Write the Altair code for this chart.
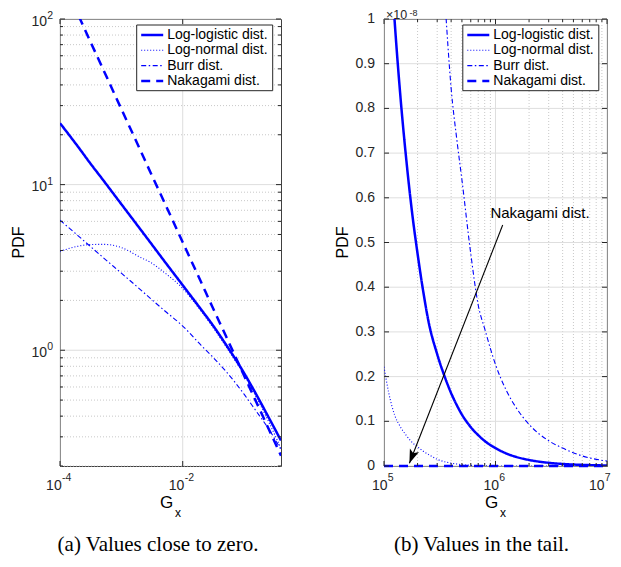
import altair as alt
import pandas as pd

# ---------------- data ----------------
NAMES = ["Log-logistic dist.", "Log-normal dist.", "Burr dist.", "Nakagami dist."]

# (a) values close to zero (log-log)
LEFT_GX = [1e-4, 2e-4, 3e-4, 5e-4, 1e-3, 2e-3, 3e-3, 5e-3, 1e-2, 2e-2, 3e-2, 5e-2, 0.1, 0.15, 0.25, 0.4]
LEFT_LOGLOGISTIC = [23.5, 16.8, 13.7, 10.7, 7.62, 5.43, 4.45, 3.46, 2.47, 1.76, 1.44, 1.09, 0.728, 0.560, 0.395, 0.285]
LEFT_LOGNORMAL = [3.96, 4.25, 4.34, 4.36, 4.17, 3.65, 3.39, 2.95, 2.36, 1.72, 1.40, 1.06, 0.708, 0.540, 0.372, 0.255]
LEFT_BURR = [6.10, 4.89, 4.29, 3.64, 2.92, 2.34, 2.05, 1.74, 1.40, 1.07, 0.92, 0.75, 0.543, 0.440, 0.336, 0.251]
LEFT_NAKAGAMI = [183, 105, 75.5, 50.1, 28.6, 16.4, 11.8, 7.85, 4.49, 2.57, 1.85, 1.23, 0.703, 0.508, 0.337, 0.231]

# (b) values in the tail (PDF in units of 1e-8)
RIGHT_GX = [1.0e5, 1.1e5, 1.25e5, 1.4e5, 1.6e5, 1.8e5, 2.0e5, 2.25e5, 2.5e5, 3.0e5, 3.5e5, 4.0e5,
            4.5e5, 5.0e5, 6.0e5, 7.0e5, 8.0e5, 1.0e6, 1.25e6, 1.5e6, 2.0e6, 3.0e6, 4.0e6, 6.0e6, 1.0e7]
RIGHT_LOGLOGISTIC = [1.40, 1.21, 0.99, 0.83, 0.675, 0.56, 0.475, 0.39, 0.325, 0.25, 0.20, 0.163,
                     0.136, 0.115, 0.087, 0.069, 0.056, 0.040, 0.028, 0.021, 0.0135, 0.0072, 0.0046, 0.0025, 0.0011]
RIGHT_LOGNORMAL = [0.222, 0.165, 0.113, 0.088, 0.067, 0.052, 0.043, 0.033, 0.026, 0.015, 0.0095, 0.0065,
                   0.0045, 0.0030, 0.0015, 0.0009, 0.0005, 0.0002, 0.0001, 0.0, 0.0, 0.0, 0.0, 0.0, 0.0]
RIGHT_BURR_GX = [3.0e5, 3.5e5, 4.0e5, 4.5e5, 5.0e5, 6.0e5, 7.0e5, 8.0e5, 1.0e6, 1.25e6, 1.5e6, 2.0e6,
                 3.0e6, 4.0e6, 6.0e6, 1.0e7]
RIGHT_BURR = [1.31, 1.05, 0.845, 0.73, 0.64, 0.475, 0.36, 0.307, 0.227, 0.169, 0.134, 0.093,
              0.0565, 0.040, 0.0225, 0.011]
RIGHT_NAKAGAMI_GX = [1.0e5, 1.0e6, 1.0e7]
RIGHT_NAKAGAMI = [0.0, 0.0, 0.0]

ANNOT_TEXT = "Nakagami dist."
ANNOT_X, ANNOT_Y = 9.0e5, 0.566
ARROW_X = [1.16e6, 1.69e5]
ARROW_Y = [0.539, 0.006]

LEFT_X_TICKS = [1e-4, 1e-2]
LEFT_X_EXP = ["-4", "-2"]
LEFT_Y_TICKS = [1, 10, 100]
LEFT_Y_EXP = ["0", "1", "2"]
LEFT_Y_MINOR = [0.2, 0.3, 0.4, 0.5, 0.6, 0.7, 0.8, 0.9, 2, 3, 4, 5, 6, 7, 8, 9,
                20, 30, 40, 50, 60, 70, 80, 90]
RIGHT_X_TICKS = [1e5, 1e6, 1e7]
RIGHT_X_EXP = ["5", "6", "7"]
RIGHT_X_MINOR = [2e5, 3e5, 4e5, 5e5, 6e5, 7e5, 8e5, 9e5, 2e6, 3e6, 4e6, 5e6, 6e6, 7e6, 8e6, 9e6]
RIGHT_Y_TICKS = [0, 0.1, 0.2, 0.3, 0.4, 0.5, 0.6, 0.7, 0.8, 0.9, 1.0]
RIGHT_Y_LABELS = ["0", "0.1", "0.2", "0.3", "0.4", "0.5", "0.6", "0.7", "0.8", "0.9", "1"]

# ---------------- styling ----------------
FONT = "Liberation Sans"
SERIF = "Liberation Serif"
INK = "#262626"
BLUE = "#0000ff"
GRID = "#dedede"
MINOR = "#c8c8c8"
W1, W2, H = 221, 223, 447
DASHES = [[1, 0], [1, 2], [5, 2.5, 1.5, 2.5], [9, 6]]
WIDTHS = [2.5, 1.1, 1.1, 2.5]


def series_df(gx_list, vals_list, names):
    rows = []
    for gx, vals, name in zip(gx_list, vals_list, names):
        for g, v in zip(gx, vals):
            rows.append({"g": g, "v": v, "dist": name})
    return pd.DataFrame(rows)


def style_enc():
    return dict(
        color=alt.Color("dist:N", scale=alt.Scale(domain=NAMES, range=[BLUE] * 4), legend=None),
        strokeDash=alt.StrokeDash("dist:N", scale=alt.Scale(type="ordinal", domain=NAMES, range=DASHES), legend=None),
        strokeWidth=alt.StrokeWidth("dist:N", scale=alt.Scale(type="ordinal", domain=NAMES, range=WIDTHS), legend=None),
    )


def text_at(s, x, y, size, font=FONT, align="center", angle=0, color="black"):
    kw = dict(font=font, fontSize=size, color=color, align=align, baseline="middle")
    if angle:
        kw["angle"] = angle
    return alt.Chart(pd.DataFrame({"s": [s]})).mark_text(**kw).encode(
        x=alt.value(x), y=alt.value(y), text="s:N")


def legend_layers(lx):
    """MATLAB-style boxed legend drawn in the panel's top-right corner."""
    top, bottom, width = 6, 71.7, 136
    layers = [alt.Chart(pd.DataFrame({"s": ["box"]})).mark_rect(
        fill="white", stroke=INK, strokeWidth=1).encode(
        x=alt.value(lx), x2=alt.value(lx + width), y=alt.value(top), y2=alt.value(bottom))]
    for i, (name, dash, wdt) in enumerate(zip(NAMES, DASHES, WIDTHS)):
        yy = top + 10 + 15.3 * i
        layers.append(alt.Chart(pd.DataFrame({"s": [name]})).mark_rule(
            color=BLUE, strokeDash=dash, strokeWidth=wdt).encode(
            x=alt.value(lx + 4.5), x2=alt.value(lx + 26.5), y=alt.value(yy)))
        layers.append(text_at(name, lx + 30.5, yy, 14, align="left"))
    return layers


def grid_x(vals, xscale, color, dash=None):
    kw = dict(color=color, strokeWidth=1)
    if dash:
        kw["strokeDash"] = dash
    return alt.Chart(pd.DataFrame({"t": vals})).mark_rule(**kw).encode(
        x=alt.X("t:Q", scale=xscale, axis=None))


def grid_y(vals, yscale, color, dash=None):
    kw = dict(color=color, strokeWidth=1)
    if dash:
        kw["strokeDash"] = dash
    return alt.Chart(pd.DataFrame({"t": vals})).mark_rule(**kw).encode(
        y=alt.Y("t:Q", scale=yscale, axis=None))


def exp_labels_x(ticks, exps, xscale, dx10):
    df = pd.DataFrame({"t": ticks, "base": ["10"] * len(ticks), "e": exps})
    base = alt.Chart(df).mark_text(align="right", baseline="middle", font=FONT, fontSize=14,
                                   color=INK, dx=dx10).encode(
        x=alt.X("t:Q", scale=xscale, axis=None), y=alt.value(H + 20), text="base:N")
    sup = alt.Chart(df).mark_text(align="left", baseline="middle", font=FONT, fontSize=10.5,
                                  color=INK, dx=dx10 + 0.3).encode(
        x=alt.X("t:Q", scale=xscale, axis=None), y=alt.value(H + 12), text="e:N")
    return [base, sup]


def edge_ticks_y(vals, yscale, w, length):
    df = pd.DataFrame({"t": vals})
    l = alt.Chart(df).mark_rule(color=INK, strokeWidth=1).encode(
        y=alt.Y("t:Q", scale=yscale, axis=None), x=alt.value(0), x2=alt.value(length))
    r = alt.Chart(df).mark_rule(color=INK, strokeWidth=1).encode(
        y=alt.Y("t:Q", scale=yscale, axis=None), x=alt.value(w - length), x2=alt.value(w))
    return [l, r]


def edge_ticks_x(vals, xscale, length):
    df = pd.DataFrame({"t": vals})
    b = alt.Chart(df).mark_rule(color=INK, strokeWidth=1).encode(
        x=alt.X("t:Q", scale=xscale, axis=None), y=alt.value(H - length), y2=alt.value(H))
    t = alt.Chart(df).mark_rule(color=INK, strokeWidth=1).encode(
        x=alt.X("t:Q", scale=xscale, axis=None), y=alt.value(0), y2=alt.value(length))
    return [b, t]


def frame_texts(w, caption, cap_x):
    return [
        text_at("PDF", -41, H / 2, 16, angle=270),
        text_at("G", w / 2 - 4, H + 37, 17),
        text_at("x", w / 2 + 7.5, H + 47, 12),
        text_at(caption, cap_x, 526, 21, font=SERIF),
    ]


# ---------------- left panel ----------------
LXS = alt.Scale(type="log", domain=[1e-4, 0.4], nice=False)
LYS = alt.Scale(type="log", domain=[0.2, 100], nice=False)

left_df = series_df([LEFT_GX] * 4,
                    [LEFT_LOGLOGISTIC, LEFT_LOGNORMAL, LEFT_BURR, LEFT_NAKAGAMI], NAMES)

left_lines = alt.Chart(left_df).mark_line(clip=True, interpolate="monotone").encode(
    x=alt.X("g:Q", scale=LXS, axis=None),
    y=alt.Y("v:Q", scale=LYS, axis=None),
    **style_enc(),
)

ylab_df = pd.DataFrame({"t": LEFT_Y_TICKS, "base": ["10"] * 3, "e": LEFT_Y_EXP})
left_ylab = alt.Chart(ylab_df).mark_text(align="right", baseline="middle", font=FONT,
                                         fontSize=14, color=INK, dy=2.5).encode(
    y=alt.Y("t:Q", scale=LYS, axis=None), x=alt.value(-13), text="base:N")
left_ysup = alt.Chart(ylab_df).mark_text(align="left", baseline="middle", font=FONT,
                                         fontSize=10.5, color=INK, dy=-3).encode(
    y=alt.Y("t:Q", scale=LYS, axis=None), x=alt.value(-12.7), text="e:N")

left_layers = [
    grid_y(LEFT_Y_MINOR, LYS, MINOR, [1, 2]),
    grid_y(LEFT_Y_TICKS, LYS, GRID),
    grid_x(LEFT_X_TICKS, LXS, GRID),
    left_lines,
]
left_layers += edge_ticks_y(LEFT_Y_TICKS, LYS, W1, 5) + edge_ticks_y(LEFT_Y_MINOR, LYS, W1, 3)
left_layers += edge_ticks_x(LEFT_X_TICKS, LXS, 5)
left_layers += legend_layers(76.7)
left_layers += exp_labels_x(LEFT_X_TICKS, LEFT_X_EXP, LXS, 1.7)
left_layers += [left_ylab, left_ysup]
left_layers += frame_texts(W1, "(a) Values close to zero.", 98)

left = alt.layer(*left_layers).properties(width=W1, height=H)

# ---------------- right panel ----------------
RXS = alt.Scale(type="log", domain=[1e5, 1e7], nice=False)
RYS = alt.Scale(type="linear", domain=[0, 1], nice=False, zero=False)

right_df = series_df([RIGHT_GX, RIGHT_GX, RIGHT_BURR_GX],
                     [RIGHT_LOGLOGISTIC, RIGHT_LOGNORMAL, RIGHT_BURR], NAMES[:3])
nak_df = series_df([RIGHT_NAKAGAMI_GX], [RIGHT_NAKAGAMI], NAMES[3:])

right_lines = alt.Chart(right_df).mark_line(clip=True, interpolate="monotone").encode(
    x=alt.X("g:Q", scale=RXS, axis=None),
    y=alt.Y("v:Q", scale=RYS, axis=None),
    **style_enc(),
)
right_nak = alt.Chart(nak_df).mark_line().encode(
    x=alt.X("g:Q", scale=RXS, axis=None),
    y=alt.Y("v:Q", scale=RYS, axis=None),
    **style_enc(),
)

arrow_df = pd.DataFrame({"g": ARROW_X, "v": ARROW_Y})
arrow_line = alt.Chart(arrow_df).mark_line(color="black", strokeWidth=1.1).encode(
    x=alt.X("g:Q", scale=RXS, axis=None), y=alt.Y("v:Q", scale=RYS, axis=None))
arrow_head = alt.Chart(arrow_df.iloc[[1]]).mark_point(
    shape="M0,0 L0.45,1.3 L0,1.0 L-0.45,1.3 Z", filled=True, color="black", opacity=1,
    size=465, angle=201, strokeWidth=0).encode(
    x=alt.X("g:Q", scale=RXS, axis=None), y=alt.Y("v:Q", scale=RYS, axis=None))
annot = alt.Chart(pd.DataFrame({"g": [ANNOT_X], "v": [ANNOT_Y], "s": [ANNOT_TEXT]})).mark_text(
    align="left", baseline="middle", font=FONT, fontSize=15, color="black").encode(
    x=alt.X("g:Q", scale=RXS, axis=None), y=alt.Y("v:Q", scale=RYS, axis=None), text="s:N")

ry_df = pd.DataFrame({"t": RIGHT_Y_TICKS, "s": RIGHT_Y_LABELS})
right_ylab = alt.Chart(ry_df).mark_text(align="right", baseline="middle", font=FONT,
                                        fontSize=14, color=INK).encode(
    y=alt.Y("t:Q", scale=RYS, axis=None), x=alt.value(-9), text="s:N")

right_layers = [
    grid_x(RIGHT_X_MINOR, RXS, MINOR, [1, 2]),
    grid_x(RIGHT_X_TICKS, RXS, GRID),
    grid_y(RIGHT_Y_TICKS, RYS, GRID),
    right_lines, right_nak, arrow_line, arrow_head, annot, right_ylab,
]
right_layers += edge_ticks_y(RIGHT_Y_TICKS, RYS, W2, 5)
right_layers += edge_ticks_x(RIGHT_X_TICKS, RXS, 5) + edge_ticks_x(RIGHT_X_MINOR, RXS, 3)
right_layers += legend_layers(78.8)
right_layers += exp_labels_x(RIGHT_X_TICKS[:2], RIGHT_X_EXP[:2], RXS, 3.5)
right_layers += exp_labels_x(RIGHT_X_TICKS[2:], RIGHT_X_EXP[2:], RXS, -2.5)
right_layers += [text_at("\u00d710", 2, -4, 12.5, align="left", color=INK),
                 text_at("-8", 25.5, -6, 9, align="left", color=INK)]
right_layers += frame_texts(W2, "(b) Values in the tail.", 97.5)

right = alt.layer(*right_layers).properties(width=W2, height=H)

chart = alt.hconcat(left, right, spacing=103, bounds="flush").properties(
    autosize=alt.AutoSizeParams(type="none"),
    padding={"left": 52, "top": 11, "right": 553, "bottom": 536},
).configure_view(stroke="#404040", strokeWidth=1)

chart.save("out.html", embed_options={"renderer": "svg", "actions": False})
